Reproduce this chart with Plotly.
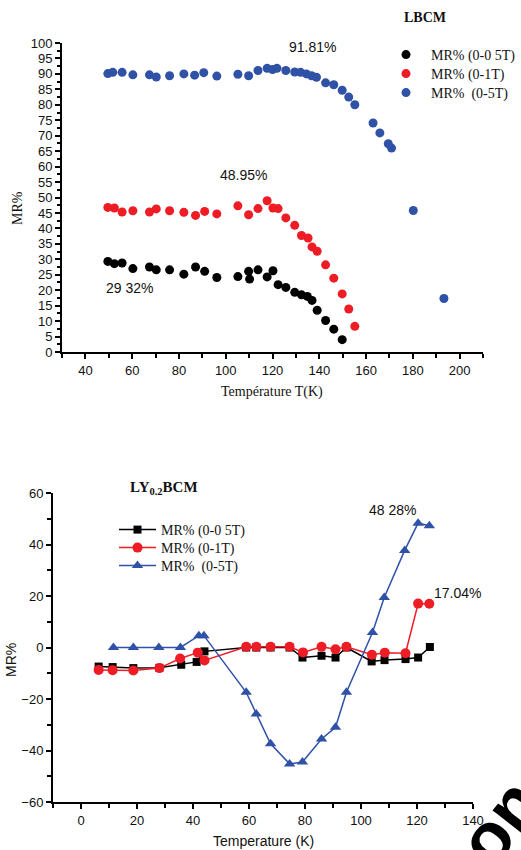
import plotly.graph_objects as go

# ---------------- LBCM : MR% versus temperature ----------------
lb_t_005 = [49.6, 52.4, 55.7, 60.3, 67.4, 70.3, 76.0, 82.1, 87.1, 91.0, 96.2, 105.2,
            109.8, 110.2, 113.8, 117.7, 120.2, 122.4, 125.7, 129.5, 132.4, 134.9,
            136.9, 139.1, 142.7, 146.2, 149.8]
lb_mr_005 = [29.32, 28.6, 28.8, 27.0, 27.5, 26.6, 26.6, 25.2, 27.5, 26.1, 24.1, 24.4,
             26.1, 23.6, 26.6, 24.3, 26.3, 21.8, 20.9, 19.3, 18.5, 18.0,
             16.7, 13.5, 10.2, 7.4, 4.0]

lb_t_1 = [49.6, 52.4, 55.7, 60.3, 67.4, 70.3, 76.0, 82.1, 87.1, 91.0, 96.2, 105.2,
          109.8, 113.8, 117.7, 120.2, 122.4, 125.7, 129.5, 132.4, 135.2, 136.9,
          139.1, 142.7, 146.2, 149.8, 152.6, 155.2]
lb_mr_1 = [46.8, 46.6, 45.3, 45.7, 45.3, 46.3, 45.7, 45.2, 44.2, 45.5, 44.7, 47.3,
           44.4, 46.4, 48.95, 46.6, 46.4, 43.4, 41.0, 37.7, 36.9, 34.0,
           32.6, 28.2, 23.9, 18.8, 13.9, 8.3]

lb_t_5 = [49.6, 51.7, 55.7, 60.3, 67.4, 70.3, 76.0, 82.1, 86.7, 90.6, 96.2, 105.2,
          109.8, 113.8, 117.7, 120.0, 121.9, 125.7, 129.5, 132.0, 134.5, 136.7,
          138.8, 142.7, 146.2, 149.8, 152.6, 155.2, 163.0, 165.9, 169.5, 170.9,
          180.2, 193.3]
lb_mr_5 = [90.1, 90.5, 90.5, 89.7, 89.7, 89.0, 89.4, 90.0, 89.6, 90.4, 89.3, 89.9,
           89.4, 91.1, 91.81, 91.4, 91.81, 91.1, 90.6, 90.5, 90.0, 89.4,
           88.9, 87.1, 86.5, 84.7, 82.5, 80.0, 74.1, 70.9, 67.4, 66.0,
           45.8, 17.3]

# ---------------- LY0.2BCM : MR% versus temperature ----------------
ly_t_005 = [6.3, 11.3, 18.7, 28.0, 35.8, 41.3, 44.1, 59.0, 62.6, 67.7, 74.5, 79.1,
            85.9, 90.9, 94.8, 103.8, 108.4, 115.9, 120.4, 124.6]
ly_mr_005 = [-7.4, -7.6, -8.0, -7.9, -6.7, -5.6, -1.5, 0.0, 0.0, 0.0, 0.0, -3.9,
             -3.2, -3.9, 0.0, -5.4, -4.9, -4.5, -3.9, 0.2]

ly_t_1 = [6.3, 11.3, 18.7, 28.0, 35.4, 41.7, 44.1, 59.0, 62.6, 67.7, 74.5, 79.3,
          85.9, 90.9, 94.8, 103.9, 108.5, 115.9, 120.4, 124.4]
ly_mr_1 = [-8.7, -8.8, -8.9, -8.0, -4.3, -2.0, -5.0, 0.3, 0.3, 0.3, 0.3, -1.9,
           0.3, -0.7, 0.3, -2.8, -2.0, -2.2, 17.04, 17.0]

ly_t_5 = [11.6, 18.7, 27.8, 35.5, 42.1, 43.9, 59.0, 62.6, 67.7, 74.5, 79.1, 85.9,
          90.9, 94.8, 104.1, 108.3, 115.6, 120.4, 124.4]
ly_mr_5 = [0.0, 0.0, 0.0, 0.0, 4.6, 4.6, -17.4, -25.8, -37.4, -45.2, -44.5, -35.5,
           -31.0, -17.4, 5.8, 19.4, 37.7, 48.28, 47.3]

series_names = ["MR% (0-0 5T)", "MR% (0-1T)", "MR%  (0-5T)"]
BLACK, RED, BLUE = "#000000", "#EE1C25", "#2F51A6"

W, H = 521, 850
SANS = "Liberation Sans, Arial, sans-serif"
SERIF = "Liberation Serif, Times New Roman, serif"


def px_x(p):
    return p / W


def px_y(p):
    return 1 - p / H


fig = go.Figure()

# top panel: scatter dots, one legend box per entry
top_rows = [55, 74, 93]
for i, (t, mr, col) in enumerate([(lb_t_005, lb_mr_005, BLACK),
                                  (lb_t_1, lb_mr_1, RED),
                                  (lb_t_5, lb_mr_5, BLUE)]):
    fig.add_trace(go.Scatter(x=t, y=mr, mode="markers", name=series_names[i],
                             marker=dict(color=col, size=9, line=dict(width=0)),
                             xaxis="x", yaxis="y",
                             legend="legend" if i == 0 else f"legend{i + 1}"))

# bottom panel: lines with markers
bot_rows = [530, 548, 566]
for i, (t, mr, col, sym, sz) in enumerate([(ly_t_005, ly_mr_005, BLACK, "square", 8),
                                           (ly_t_1, ly_mr_1, RED, "circle", 10),
                                           (ly_t_5, ly_mr_5, BLUE, "triangle-up", 10)]):
    fig.add_trace(go.Scatter(x=t, y=mr, mode="lines+markers", name=series_names[i],
                             line=dict(color=col, width=1.5),
                             marker=dict(color=col, size=sz, symbol=sym, line=dict(width=0)),
                             xaxis="x2", yaxis="y2", legend=f"legend{i + 4}"))

axis_common = dict(showline=True, linecolor="black", linewidth=2, ticks="outside",
                   ticklen=5, tickwidth=1.5, tickcolor="black", showgrid=False,
                   zeroline=False, mirror=False, automargin=False,
                   tickfont=dict(family=SANS, size=13, color="#111"))

legend_font = dict(family=SERIF, size=14, color="#111")
legends = {}
for i, row in enumerate(top_rows):
    key = "legend" if i == 0 else f"legend{i + 1}"
    legends[key] = dict(x=px_x(381), y=px_y(row), xanchor="left", yanchor="middle",
                        bgcolor="rgba(0,0,0,0)", itemwidth=40, font=legend_font)
for i, row in enumerate(bot_rows):
    legends[f"legend{i + 4}"] = dict(x=px_x(114), y=px_y(row), xanchor="left",
                                     yanchor="middle", bgcolor="rgba(0,0,0,0)",
                                     itemwidth=37, font=legend_font)

fig.update_layout(
    width=W, height=H, autosize=False,
    margin=dict(l=0, r=0, t=0, b=0, pad=0, autoexpand=False),
    paper_bgcolor="white", plot_bgcolor="white",
    xaxis=dict(domain=[px_x(62), px_x(483)], range=[30, 210], anchor="y",
               tickvals=list(range(40, 201, 20)),
               minor=dict(tickvals=list(range(30, 211, 10)), ticks="outside", ticklen=4,
                          tickwidth=1.5, tickcolor="black"),
               **axis_common),
    yaxis=dict(domain=[px_y(352), px_y(43)], range=[0, 100], anchor="x",
               dtick=5, tick0=0,
               minor=dict(dtick=2.5, ticks="outside", ticklen=3, tickwidth=1.5,
                          tickcolor="black"),
               **axis_common),
    xaxis2=dict(domain=[px_x(53), px_x(473)], range=[-10, 140], anchor="y2",
                tickvals=list(range(0, 141, 20)),
                minor=dict(tickvals=list(range(-10, 141, 10)), ticks="outside", ticklen=4,
                           tickwidth=1.5, tickcolor="black"),
                **axis_common),
    yaxis2=dict(domain=[px_y(802), px_y(493)], range=[-60, 60], anchor="x2",
                dtick=20, tick0=0,
                minor=dict(dtick=10, ticks="outside", ticklen=4, tickwidth=1.5,
                           tickcolor="black"),
                **axis_common),
    showlegend=True,
    **legends,
)

ann = []
# panel titles
ann.append(dict(text="<b>LBCM</b>", x=425, y=17,
                font=dict(family=SERIF, size=14, color="#111")))
ann.append(dict(text="<b>LY<sub>0.2</sub>BCM</b>", x=164, y=488,
                font=dict(family=SERIF, size=15, color="#111")))
# axis titles
ann.append(dict(text="Température T(K)", x=272, y=392,
                font=dict(family=SERIF, size=14, color="#111")))
ann.append(dict(text="MR%", x=17, y=208, textangle=-90,
                font=dict(family=SERIF, size=14, color="#111")))
ann.append(dict(text="Temperature (K)", x=263, y=841,
                font=dict(family=SANS, size=14, color="#111")))
ann.append(dict(text="MR%", x=11, y=660, textangle=-90,
                font=dict(family=SANS, size=14, color="#111")))
# value labels
ann.append(dict(text="91.81%", x=312, y=47, font=dict(family=SANS, size=14, color="#111")))
ann.append(dict(text="48.95%", x=243, y=175, font=dict(family=SANS, size=14, color="#111")))
ann.append(dict(text="29 32%", x=129, y=288, font=dict(family=SANS, size=14, color="#111")))
ann.append(dict(text="48 28%", x=392, y=510, font=dict(family=SANS, size=14, color="#111")))
ann.append(dict(text="17.04%", x=457, y=593, font=dict(family=SANS, size=14, color="#111")))
# corner stamp text
ann.append(dict(text="<b>on</b>", x=500, y=822, textangle=-52,
                font=dict(family=SANS, size=70, color="black")))

for a in ann:
    a["x"] = px_x(a["x"])
    a["y"] = px_y(a["y"])
    a.update(xref="paper", yref="paper", xanchor="center", yanchor="middle",
             showarrow=False)
fig.update_layout(annotations=ann)

fig.write_html("out.html")
